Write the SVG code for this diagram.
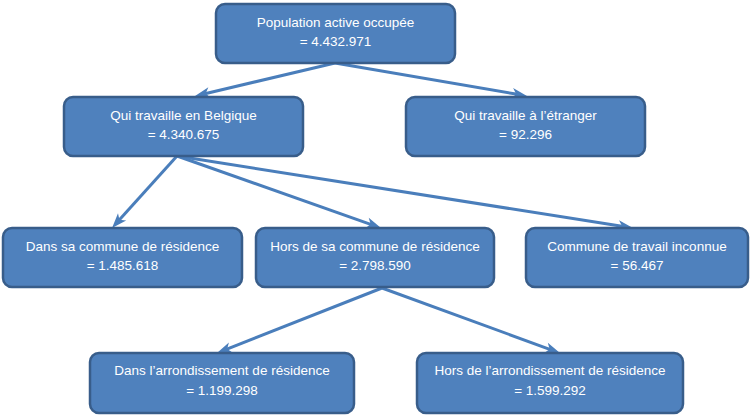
<svg xmlns="http://www.w3.org/2000/svg" width="751" height="420" viewBox="0 0 751 420">
<style>
.box{fill:#4f81bd;stroke:#385d8a;stroke-width:2.5}
.t{font-family:"Liberation Sans",Arial,sans-serif;font-size:13.5px;fill:#ffffff;text-anchor:middle}
.c{stroke:#4a7ebb;stroke-width:3;fill:none;marker-end:url(#ah)}
</style>
<defs>
<marker id="ah" viewBox="-16 -7 17 14" refX="-8" refY="0" markerWidth="17" markerHeight="14" markerUnits="userSpaceOnUse" orient="auto">
<path d="M0,0 L-15,-5.5 L-11,0 L-15,5.5 Z" fill="#4a7ebb"/>
</marker>
</defs>
<rect width="751" height="420" fill="#ffffff"/>
<g id="connectors">
<line class="c" x1="335" y1="63" x2="202.8" y2="94.2"/>
<line class="c" x1="335" y1="63" x2="519.1" y2="94.6"/>
<line class="c" x1="177" y1="156" x2="117.4" y2="222.1"/>
<line class="c" x1="177" y1="156" x2="373.5" y2="225.3"/>
<line class="c" x1="177" y1="156" x2="625.1" y2="226.8"/>
<line class="c" x1="382" y1="288" x2="224.4" y2="350.1"/>
<line class="c" x1="382" y1="288" x2="552.5" y2="350.3"/>
</g>
<g id="n-total">
<rect class="box" x="216" y="4" width="239" height="59" rx="9"/>
<text class="t" x="335.5" y="27">Population active occupée</text>
<text class="t" x="335.5" y="46">= 4.432.971</text>
</g>
<g id="n-belgique">
<rect class="box" x="64" y="97" width="239" height="59" rx="9"/>
<text class="t" x="183.5" y="120">Qui travaille en Belgique</text>
<text class="t" x="183.5" y="139">= 4.340.675</text>
</g>
<g id="n-etranger">
<rect class="box" x="406" y="97" width="239" height="59" rx="9"/>
<text class="t" x="525.5" y="120">Qui travaille à l’étranger</text>
<text class="t" x="525.5" y="139">= 92.296</text>
</g>
<g id="n-dans-commune">
<rect class="box" x="3" y="228" width="239" height="59" rx="9"/>
<text class="t" x="122.5" y="251">Dans sa commune de résidence</text>
<text class="t" x="122.5" y="270">= 1.485.618</text>
</g>
<g id="n-hors-commune">
<rect class="box" x="256" y="228" width="238" height="59" rx="9"/>
<text class="t" x="375" y="251">Hors de sa commune de résidence</text>
<text class="t" x="375" y="270">= 2.798.590</text>
</g>
<g id="n-inconnue">
<rect class="box" x="526" y="228" width="222" height="59" rx="9"/>
<text class="t" x="637" y="251">Commune de travail inconnue</text>
<text class="t" x="637" y="270">= 56.467</text>
</g>
<g id="n-dans-arr">
<rect class="box" x="90" y="353" width="264" height="60" rx="9"/>
<text class="t" x="222" y="375">Dans l’arrondissement de résidence</text>
<text class="t" x="222" y="395">= 1.199.298</text>
</g>
<g id="n-hors-arr">
<rect class="box" x="417" y="353" width="266" height="60" rx="9"/>
<text class="t" x="550" y="375">Hors de l’arrondissement de résidence</text>
<text class="t" x="550" y="395">= 1.599.292</text>
</g>
</svg>
